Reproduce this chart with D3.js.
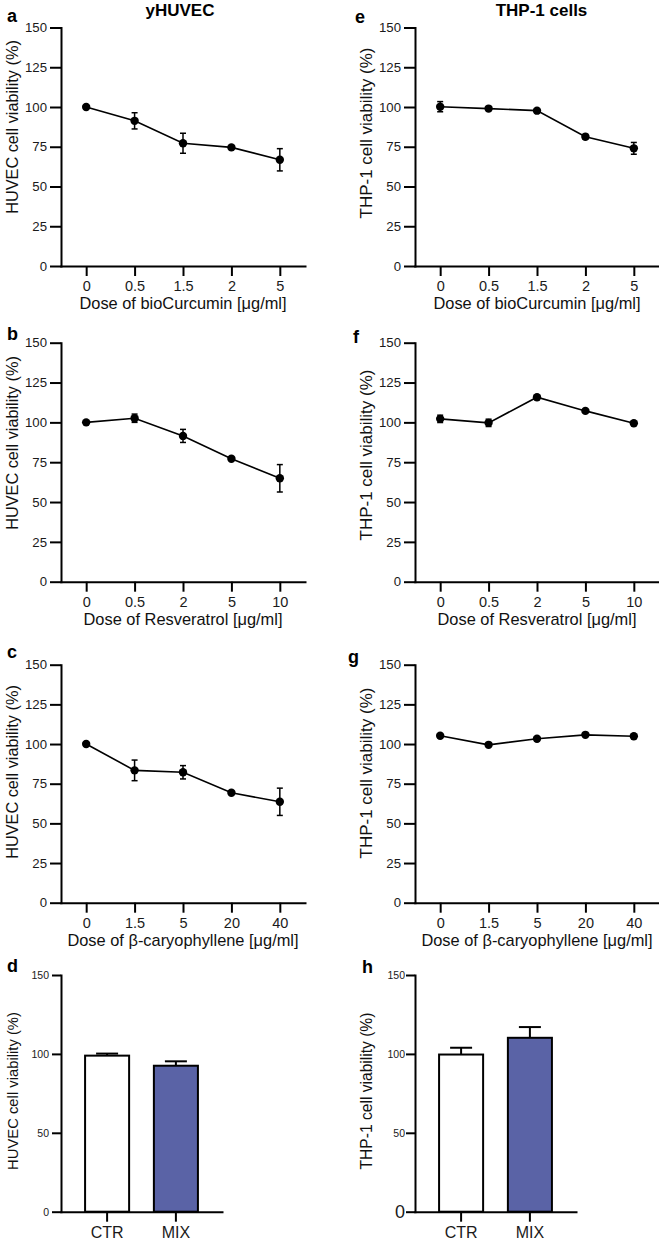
<!DOCTYPE html>
<html><head><meta charset="utf-8">
<script src="https://cdn.jsdelivr.net/npm/d3@7"></script>
<style>body{margin:0;background:#fff}svg{display:block}text{font-family:"Liberation Sans",Arial,Helvetica,sans-serif}</style>
</head><body><svg id="c" width="659" height="1240"></svg>
<script>
// ---- data ----
const curcuminDoses = ["0","0.5","1.5","2","5"];
const resveratrolDoses = ["0","0.5","2","5","10"];
const caryophylleneDoses = ["0","1.5","5","20","40"];
const mixGroups = ["CTR","MIX"];
const yTicksLine = [0,25,50,75,100,125,150];
const yTicksBar = [0,50,100,150];

const huvecCurcuminMean = [100, 91.3, 77.2, 74.6, 66.8];
const huvecCurcuminErr  = [0.5, 5.1, 6.3, 1.0, 7.0];
const huvecResveratrolMean = [100, 102.6, 91.5, 77.2, 64.9];
const huvecResveratrolErr  = [0.5, 2.6, 4.1, 1.0, 8.6];
const huvecCaryMean = [100, 83.4, 82.2, 69.3, 63.6];
const huvecCaryErr  = [0.5, 6.5, 4.2, 1.0, 8.6];
const huvecMixMean = [98.9, 92.5];
const huvecMixErr  = [1.3, 2.8];

const thpCurcuminMean = [100.2, 99.0, 97.7, 81.3, 74.0];
const thpCurcuminErr  = [3.2, 1.0, 1.0, 1.5, 3.7];
const thpResveratrolMean = [102.2, 99.7, 115.8, 107.2, 99.4];
const thpResveratrolErr  = [2.3, 2.3, 1.0, 0.8, 0.8];
const thpCaryMean = [105.2, 99.5, 103.3, 105.8, 104.9];
const thpCaryErr  = [0.5, 0.5, 0.5, 0.5, 0.5];
const thpMixMean = [99.6, 110.2];
const thpMixErr  = [4.3, 6.8];

// ---- layout ----
const svg = d3.select("#c");
const L = {x0:61, x1:305}, R = {x0:415, x1:659};
const rows = [{top:27.5,bot:266},{top:342.7,bot:581.7},{top:664.7,bot:902.7},{top:975,bot:1211.7}];
const FONT = '"Liberation Sans",Arial,Helvetica,sans-serif';

function styleAxis(g, size){
  g.select(".domain").attr("stroke","#000").attr("stroke-width",2).attr("stroke-linecap","square");
  g.selectAll(".tick line").attr("stroke","#000").attr("stroke-width",2);
  g.selectAll(".tick text").attr("fill","#1a1a1a").attr("font-size",size).attr("font-family",FONT);
}

function linePanel(col, row, cats, mean, err, xTitle, yTitle, yLab){
  const x = d3.scalePoint().domain(cats).range([col.x0, col.x1]).padding(0.52);
  const y = d3.scaleLinear().domain([0,150]).range([row.bot,row.top]);
  const gx = svg.append("g").attr("transform",`translate(0,${row.bot})`)
    .call(d3.axisBottom(x).tickSize(10).tickPadding(5).tickSizeOuter(0));
  styleAxis(gx, 14.5);
  const gy = svg.append("g").attr("transform",`translate(${col.x0},0)`)
    .call(d3.axisLeft(y).tickValues(yTicksLine).tickSize(11).tickPadding(3).tickSizeOuter(0));
  styleAxis(gy, 13.2);
  const data = cats.map((c,i)=>({c, m:mean[i], e:err[i]}));
  const g = svg.append("g");
  g.append("path").datum(data)
    .attr("d", d3.line().x(d=>x(d.c)).y(d=>y(d.m)))
    .attr("fill","none").attr("stroke","#000").attr("stroke-width",1.6);
  const eb = g.selectAll(".eb").data(data).join("g");
  eb.append("line").attr("x1",d=>x(d.c)).attr("x2",d=>x(d.c))
    .attr("y1",d=>y(d.m-d.e)).attr("y2",d=>y(d.m+d.e)).attr("stroke","#000").attr("stroke-width",1.5);
  eb.append("line").attr("x1",d=>x(d.c)-3).attr("x2",d=>x(d.c)+3)
    .attr("y1",d=>y(d.m+d.e)).attr("y2",d=>y(d.m+d.e)).attr("stroke","#000").attr("stroke-width",1.5);
  eb.append("line").attr("x1",d=>x(d.c)-3).attr("x2",d=>x(d.c)+3)
    .attr("y1",d=>y(d.m-d.e)).attr("y2",d=>y(d.m-d.e)).attr("stroke","#000").attr("stroke-width",1.5);
  g.selectAll("circle").data(data).join("circle")
    .attr("cx",d=>x(d.c)).attr("cy",d=>y(d.m)).attr("r",4.2).attr("fill","#000");
  svg.append("text").attr("x",(col.x0+col.x1)/2).attr("y",row.bot+43)
    .attr("text-anchor","middle").attr("font-size",16.4).attr("fill","#111").text(xTitle);
  svg.append("text").attr("transform",`translate(${yLab.x},${yLab.y}) rotate(-90)`)
    .attr("text-anchor","middle").attr("font-size",yLab.s).attr("fill","#111").text(yTitle);
}

function barPanel(col, row, cats, mean, err, yTitle, yLab, bigZero){
  const x = d3.scaleBand().domain(cats).range([col.x0, col.x0+161]).paddingInner(0.36).paddingOuter(0.35);
  const y = d3.scaleLinear().domain([0,150]).range([row.bot,row.top]);
  const data = cats.map((c,i)=>({c, m:mean[i], e:err[i]}));
  const g = svg.append("g");
  g.selectAll(".eb").data(data).join("line")
    .attr("x1",d=>x(d.c)+x.bandwidth()/2).attr("x2",d=>x(d.c)+x.bandwidth()/2)
    .attr("y1",d=>y(d.m)).attr("y2",d=>y(d.m+d.e)).attr("stroke","#000").attr("stroke-width",2);
  g.selectAll(".cap").data(data).join("line")
    .attr("x1",d=>x(d.c)+x.bandwidth()/2-11).attr("x2",d=>x(d.c)+x.bandwidth()/2+11)
    .attr("y1",d=>y(d.m+d.e)).attr("y2",d=>y(d.m+d.e)).attr("stroke","#000").attr("stroke-width",2);
  g.selectAll("rect").data(data).join("rect")
    .attr("x",d=>x(d.c)).attr("width",x.bandwidth())
    .attr("y",d=>y(d.m)).attr("height",d=>y(0)-y(d.m))
    .attr("fill",(d,i)=>i===0?"#ffffff":"#5a63a6").attr("stroke","#000").attr("stroke-width",2);
  const gx = svg.append("g").attr("transform",`translate(0,${row.bot})`)
    .call(d3.axisBottom(x).tickSize(10).tickPadding(5).tickSizeOuter(0));
  styleAxis(gx, 16);
  const gy = svg.append("g").attr("transform",`translate(${col.x0},0)`)
    .call(d3.axisLeft(y).tickValues(yTicksBar).tickSize(9).tickPadding(bigZero?1:3).tickSizeOuter(0));
  styleAxis(gy, 10.5);
  if(bigZero) gy.selectAll(".tick text").filter(d=>d===0).attr("font-size",18);
  svg.append("text").attr("transform",`translate(${yLab.x},${yLab.y}) rotate(-90)`)
    .attr("text-anchor","middle").attr("font-size",yLab.s).attr("fill","#111").text(yTitle);
}

const doseUnit = " [\u03bcg/ml]";
linePanel(L, rows[0], curcuminDoses, huvecCurcuminMean, huvecCurcuminErr, "Dose of bioCurcumin"+doseUnit, "HUVEC cell viability (%)", {x:18,y:127,s:16.3});
linePanel(L, rows[1], resveratrolDoses, huvecResveratrolMean, huvecResveratrolErr, "Dose of Resveratrol"+doseUnit, "HUVEC cell viability (%)", {x:18,y:443,s:16.3});
linePanel(L, rows[2], caryophylleneDoses, huvecCaryMean, huvecCaryErr, "Dose of \u03b2-caryophyllene"+doseUnit, "HUVEC cell viability (%)", {x:18,y:772,s:16.3});
barPanel(L, rows[3], mixGroups, huvecMixMean, huvecMixErr, "HUVEC cell viability (%)", {x:18,y:1091,s:14.8}, false);

linePanel(R, rows[0], curcuminDoses, thpCurcuminMean, thpCurcuminErr, "Dose of bioCurcumin"+doseUnit, "THP-1 cell viability (%)", {x:372,y:133,s:17});
linePanel(R, rows[1], resveratrolDoses, thpResveratrolMean, thpResveratrolErr, "Dose of Resveratrol"+doseUnit, "THP-1 cell viability (%)", {x:372,y:455,s:17});
linePanel(R, rows[2], caryophylleneDoses, thpCaryMean, thpCaryErr, "Dose of \u03b2-caryophyllene"+doseUnit, "THP-1 cell viability (%)", {x:372,y:773,s:17});
barPanel(R, rows[3], mixGroups, thpMixMean, thpMixErr, "THP-1 cell viability (%)", {x:372,y:1091,s:15.6}, true);

// headers and panel letters
svg.append("text").attr("x",180).attr("y",15.5).attr("text-anchor","middle").attr("font-size",17).attr("font-weight","bold").text("yHUVEC");
svg.append("text").attr("x",541.5).attr("y",15.5).attr("text-anchor","middle").attr("font-size",17).attr("font-weight","bold").text("THP-1 cells");
const letters = [["a",7,22],["b",7,340],["c",7,658],["d",7,972],["e",355,23],["f",353,343],["g",348,663],["h",362,973]];
svg.selectAll(".lt").data(letters).join("text").attr("x",d=>d[1]).attr("y",d=>d[2])
  .attr("font-size",18).attr("font-weight","bold").text(d=>d[0]);
</script></body></html>
